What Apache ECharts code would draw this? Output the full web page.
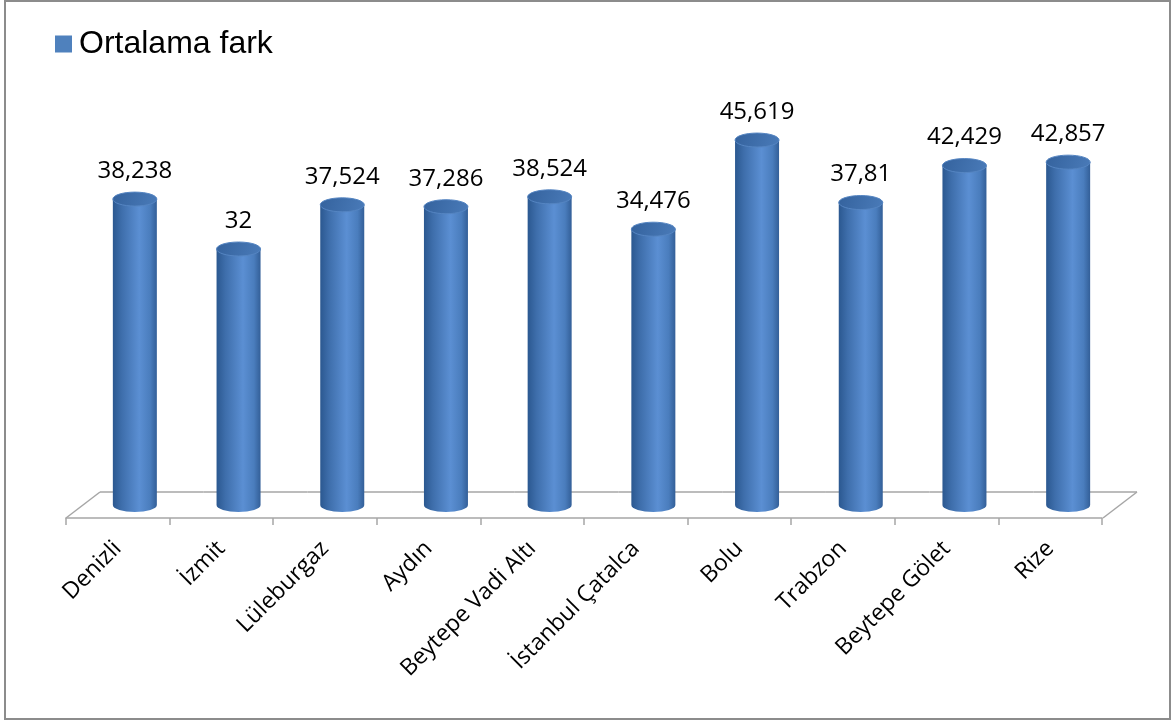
<!DOCTYPE html>
<html>
<head>
<meta charset="utf-8">
<script src="https://cdn.jsdelivr.net/npm/echarts@6/dist/echarts.min.js"></script>
<style>
  html, body { margin: 0; padding: 0; background: #fff; }
  #chart { width: 1174px; height: 720px; }
</style>
</head>
<body>
<div id="chart"></div>
<script>
// Sites and their mean difference values
const categories = ['Denizli', 'İzmit', 'Lüleburgaz', 'Aydın', 'Beytepe Vadi Altı',
  'İstanbul Çatalca', 'Bolu', 'Trabzon', 'Beytepe Gölet', 'Rize'];
const values = [38.238, 32, 37.524, 37.286, 38.524, 34.476, 45.619, 37.81, 42.429, 42.857];
const seriesName = 'Ortalama fark';

const DEPTH_X = 17;   // half depth of the floor, horizontal
const DEPTH_Y = 13;   // half depth of the floor, vertical
const CYL_RX = 22;    // cylinder radius
const CYL_RY = 7;     // ellipse flattening

const fmt = v => String(v).replace('.', ',');

const chart = echarts.init(document.getElementById('chart'));

// Floor: back edge and the two side edges (front edge is the category axis line)
function renderFloor(params, api) {
  const idx = api.value(0);
  const c = api.coord([idx, 0]);
  const bw = api.size([1, 0])[0];
  const style = { stroke: '#a6a6a6', lineWidth: 1.5, fill: null };
  const children = [{
    type: 'line',
    shape: { x1: c[0] - bw / 2 + DEPTH_X, y1: c[1] - DEPTH_Y, x2: c[0] + bw / 2 + DEPTH_X, y2: c[1] - DEPTH_Y },
    style
  }];
  if (idx === 0) {
    children.push({ type: 'line',
      shape: { x1: c[0] - bw / 2 - DEPTH_X, y1: c[1] + DEPTH_Y, x2: c[0] - bw / 2 + DEPTH_X, y2: c[1] - DEPTH_Y },
      style });
  }
  if (idx === categories.length - 1) {
    children.push({ type: 'line',
      shape: { x1: c[0] + bw / 2 - DEPTH_X, y1: c[1] + DEPTH_Y, x2: c[0] + bw / 2 + DEPTH_X, y2: c[1] - DEPTH_Y },
      style });
  }
  return { type: 'group', children };
}

// Cylinder: shaded body with rounded base, elliptical cap and value label
function renderCylinder(params, api) {
  const idx = api.value(0);
  const val = api.value(1);
  const top = api.coord([idx, val]);
  const base = api.coord([idx, 0]);
  const x0 = top[0] - CYL_RX, x1 = top[0] + CYL_RX;
  const body = 'M' + x0 + ' ' + top[1] + ' L' + x0 + ' ' + base[1] +
    ' A' + CYL_RX + ' ' + CYL_RY + ' 0 0 0 ' + x1 + ' ' + base[1] +
    ' L' + x1 + ' ' + top[1] + ' Z';
  return {
    type: 'group',
    children: [
      {
        type: 'path',
        shape: { pathData: body },
        style: {
          fill: new echarts.graphic.LinearGradient(0, 0, 1, 0, [
            { offset: 0, color: '#2b5890' },
            { offset: 0.2, color: '#3e6eab' },
            { offset: 0.6, color: '#5b8fd3' },
            { offset: 0.85, color: '#4a7dbd' },
            { offset: 1, color: '#335f98' }
          ])
        }
      },
      {
        type: 'ellipse',
        shape: { cx: top[0], cy: top[1], rx: CYL_RX, ry: CYL_RY },
        style: {
          fill: new echarts.graphic.LinearGradient(0, 0, 1, 1, [
            { offset: 0, color: '#34629d' },
            { offset: 1, color: '#4a7bb9' }
          ]),
          stroke: '#5585c2',
          lineWidth: 1
        }
      },
      {
        type: 'text',
        x: top[0],
        y: top[1] - CYL_RY - 9,
        style: {
          text: fmt(val),
          fill: '#000',
          font: '24px "Open Sans", sans-serif',
          align: 'center',
          verticalAlign: 'bottom'
        }
      }
    ]
  };
}

const data = values.map((v, i) => [i, v]);

chart.setOption({
  animation: false,
  backgroundColor: '#fff',
  graphic: [{
    type: 'rect',
    shape: { x: 5, y: 1, width: 1165, height: 718 },
    style: { fill: null, stroke: '#8c8c8c', lineWidth: 2 },
    silent: true
  }],
  legend: {
    data: [seriesName],
    left: 55,
    top: 28,
    padding: 0,
    icon: 'rect',
    itemWidth: 17,
    itemHeight: 17,
    itemGap: 6,
    textStyle: { fontFamily: '"Liberation Sans", Arial, sans-serif', fontSize: 32, color: '#000', padding: [0, 0, 0, 2] }
  },
  grid: [
    { left: 83, right: 54, top: 105, bottom: 215 },   // cylinders, at mid depth of the floor
    { left: 66, right: 72, top: 105, bottom: 202 }    // front edge of the floor
  ],
  xAxis: [
    { type: 'category', data: categories, gridIndex: 0, show: false },
    {
      type: 'category', data: categories, gridIndex: 1,
      axisLine: { lineStyle: { color: '#a6a6a6', width: 1.5 } },
      axisTick: { show: true, length: 7, lineStyle: { color: '#a6a6a6', width: 1.5 } },
      axisLabel: {
        rotate: 45, margin: 27, interval: 0,
        color: '#000', fontSize: 23, fontFamily: '"Open Sans", sans-serif'
      }
    }
  ],
  yAxis: [
    { type: 'value', min: 0, max: 50, gridIndex: 0, show: false },
    { type: 'value', min: 0, max: 50, gridIndex: 1, show: false }
  ],
  series: [
    {
      type: 'custom', name: 'floor', xAxisIndex: 0, yAxisIndex: 0,
      renderItem: renderFloor, data: data, z: 1, silent: true
    },
    {
      type: 'custom', name: seriesName, xAxisIndex: 0, yAxisIndex: 0,
      itemStyle: { color: '#4f81bd' },
      renderItem: renderCylinder, data: data, z: 3
    }
  ]
});
</script>
</body>
</html>
